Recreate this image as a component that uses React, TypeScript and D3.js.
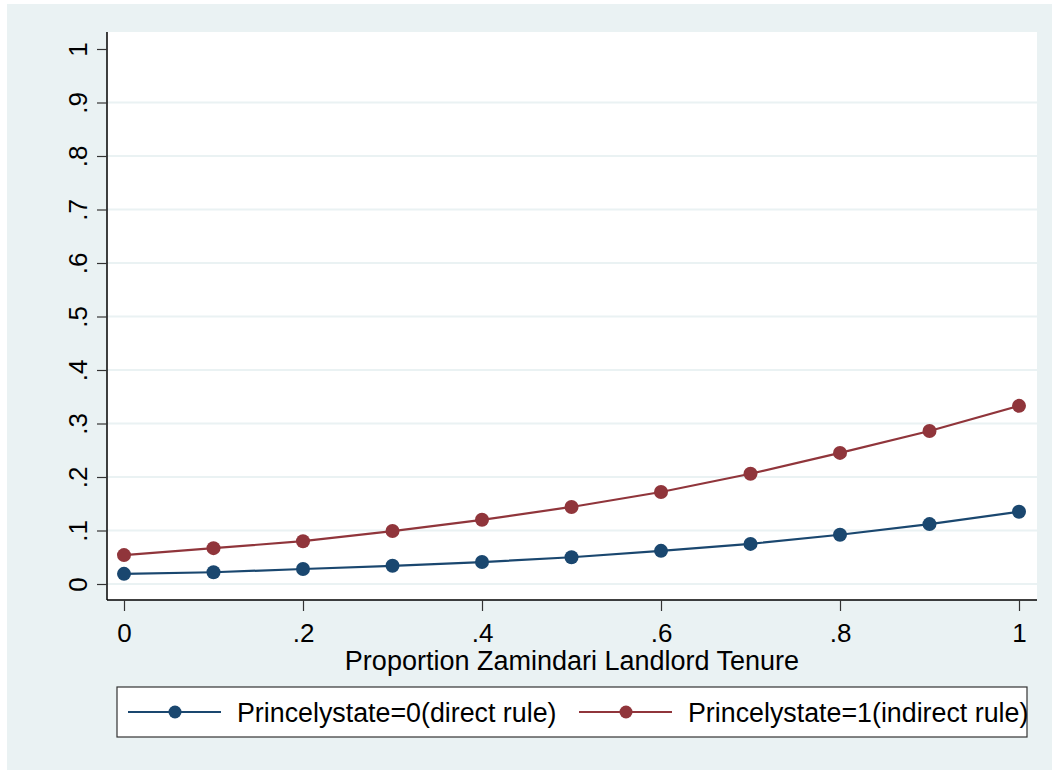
import * as d3 from "d3";
import { useEffect, useRef } from "react";

// values
const xValues = [0, 0.1, 0.2, 0.3, 0.4, 0.5, 0.6, 0.7, 0.8, 0.9, 1];
const directRule = [0.019, 0.022, 0.028, 0.034, 0.041, 0.050, 0.062, 0.075, 0.092, 0.112, 0.135];
const indirectRule = [0.054, 0.067, 0.080, 0.099, 0.120, 0.144, 0.172, 0.206, 0.245, 0.286, 0.333];

const xTicks = [0, 0.2, 0.4, 0.6, 0.8, 1];
const yTicks = [0, 0.1, 0.2, 0.3, 0.4, 0.5, 0.6, 0.7, 0.8, 0.9, 1];

const seriesNames = ["Princelystate=0(direct rule)", "Princelystate=1(indirect rule)"];
const seriesColors = ["#1a476f", "#90353b"];
const xTitle = "Proportion Zamindari Landlord Tenure";

const W = 1052;
const H = 770;
const BG = "#eaf2f3";
const FONT = "Liberation Sans, Arial, sans-serif";

const fmt = (v: number) => {
    if (v === 0) return "0";
    if (v === 1) return "1";
    return d3.format(".1f")(v).replace(/^0/, "");
};

const App = () => {
    const ref = useRef<SVGSVGElement | null>(null);

    useEffect(() => {
        const svg = d3.select(ref.current);
        svg.selectAll("*").remove();

        // plot region
        const plot = { left: 107, top: 32, right: 1037, bottom: 600 };

        const x = d3.scaleLinear().domain([0, 1]).range([124, 1019]);
        const y = d3.scaleLinear().domain([0, 1]).range([584, 49]);

        // outer background
        svg.append("rect").attr("width", W).attr("height", H).attr("fill", "white");
        svg.append("rect").attr("x", 7).attr("y", 4).attr("width", W - 7).attr("height", H - 4).attr("fill", BG);

        svg.append("rect")
            .attr("x", plot.left)
            .attr("y", plot.top)
            .attr("width", plot.right - plot.left)
            .attr("height", plot.bottom - plot.top)
            .attr("fill", "white");

        // grid lines
        svg.append("g")
            .selectAll("line")
            .data(yTicks.filter(d => d < 1))
            .enter()
            .append("line")
            .attr("x1", plot.left)
            .attr("x2", plot.right)
            .attr("y1", d => y(d))
            .attr("y2", d => y(d))
            .attr("stroke", BG)
            .attr("stroke-width", 2);

        // y axis
        const yAxis = d3.axisLeft(y).tickValues(yTicks).tickSize(10).tickPadding(10).tickFormat(d => fmt(+d));
        const gy = svg.append("g").attr("transform", `translate(${plot.left},0)`).call(yAxis);
        gy.select(".domain").attr("d", `M0,${plot.top}V${plot.bottom}`).attr("stroke", "#000").attr("stroke-width", 1.5);
        gy.selectAll(".tick line").attr("stroke", "#333").attr("stroke-width", 1.2);
        gy.selectAll(".tick text")
            .attr("font-family", FONT)
            .attr("font-size", 26)
            .attr("fill", "#000")
            .attr("text-anchor", "middle")
            .attr("dy", 0)
            .attr("x", 0)
            .attr("transform", "translate(-20,0) rotate(-90)");

        // x axis
        const xAxis = d3.axisBottom(x).tickValues(xTicks).tickSize(11).tickPadding(6).tickFormat(d => fmt(+d));
        const gx = svg.append("g").attr("transform", `translate(0,${plot.bottom})`).call(xAxis);
        gx.select(".domain").attr("d", `M${plot.left},0H${plot.right}`).attr("stroke", "#000").attr("stroke-width", 1.5);
        gx.selectAll(".tick line").attr("stroke", "#333").attr("stroke-width", 1.2);
        gx.selectAll(".tick text")
            .attr("font-family", FONT)
            .attr("font-size", 26)
            .attr("fill", "#000")
            .attr("dy", 0)
            .attr("y", 42);

        svg.append("text")
            .attr("x", (plot.left + plot.right) / 2)
            .attr("y", 670)
            .attr("text-anchor", "middle")
            .attr("font-family", FONT)
            .attr("font-size", 27)
            .attr("fill", "#000")
            .text(xTitle);

        // series
        const series = [directRule, indirectRule];
        const line = d3.line<number>().x((_, i) => x(xValues[i])).y(d => y(d));

        series.forEach((vals, si) => {
            svg.append("path")
                .datum(vals)
                .attr("d", line)
                .attr("fill", "none")
                .attr("stroke", seriesColors[si])
                .attr("stroke-width", 2.2);

            svg.append("g")
                .selectAll("circle")
                .data(vals)
                .enter()
                .append("circle")
                .attr("cx", (_, i) => x(xValues[i]))
                .attr("cy", d => y(d))
                .attr("r", 7)
                .attr("fill", seriesColors[si]);
        });

        // legend
        svg.append("rect")
            .attr("x", 117)
            .attr("y", 687)
            .attr("width", 910)
            .attr("height", 50)
            .attr("fill", "white")
            .attr("stroke", "#333")
            .attr("stroke-width", 1.2);

        const legendX = [128, 579];
        seriesNames.forEach((name, si) => {
            const lx = legendX[si];
            svg.append("line")
                .attr("x1", lx)
                .attr("x2", lx + 93)
                .attr("y1", 712)
                .attr("y2", 712)
                .attr("stroke", seriesColors[si])
                .attr("stroke-width", 2.2);
            svg.append("circle")
                .attr("cx", lx + 47)
                .attr("cy", 712)
                .attr("r", 6.5)
                .attr("fill", seriesColors[si]);
            svg.append("text")
                .attr("x", lx + 109)
                .attr("y", 722)
                .attr("font-family", FONT)
                .attr("font-size", 26.8)
                .attr("fill", "#000")
                .text(name);
        });
    }, []);

    return (
        <svg ref={ref} width={W} height={H} style={{ position: "absolute", left: 0, top: 0 }}></svg>
    );
};

export default App;
